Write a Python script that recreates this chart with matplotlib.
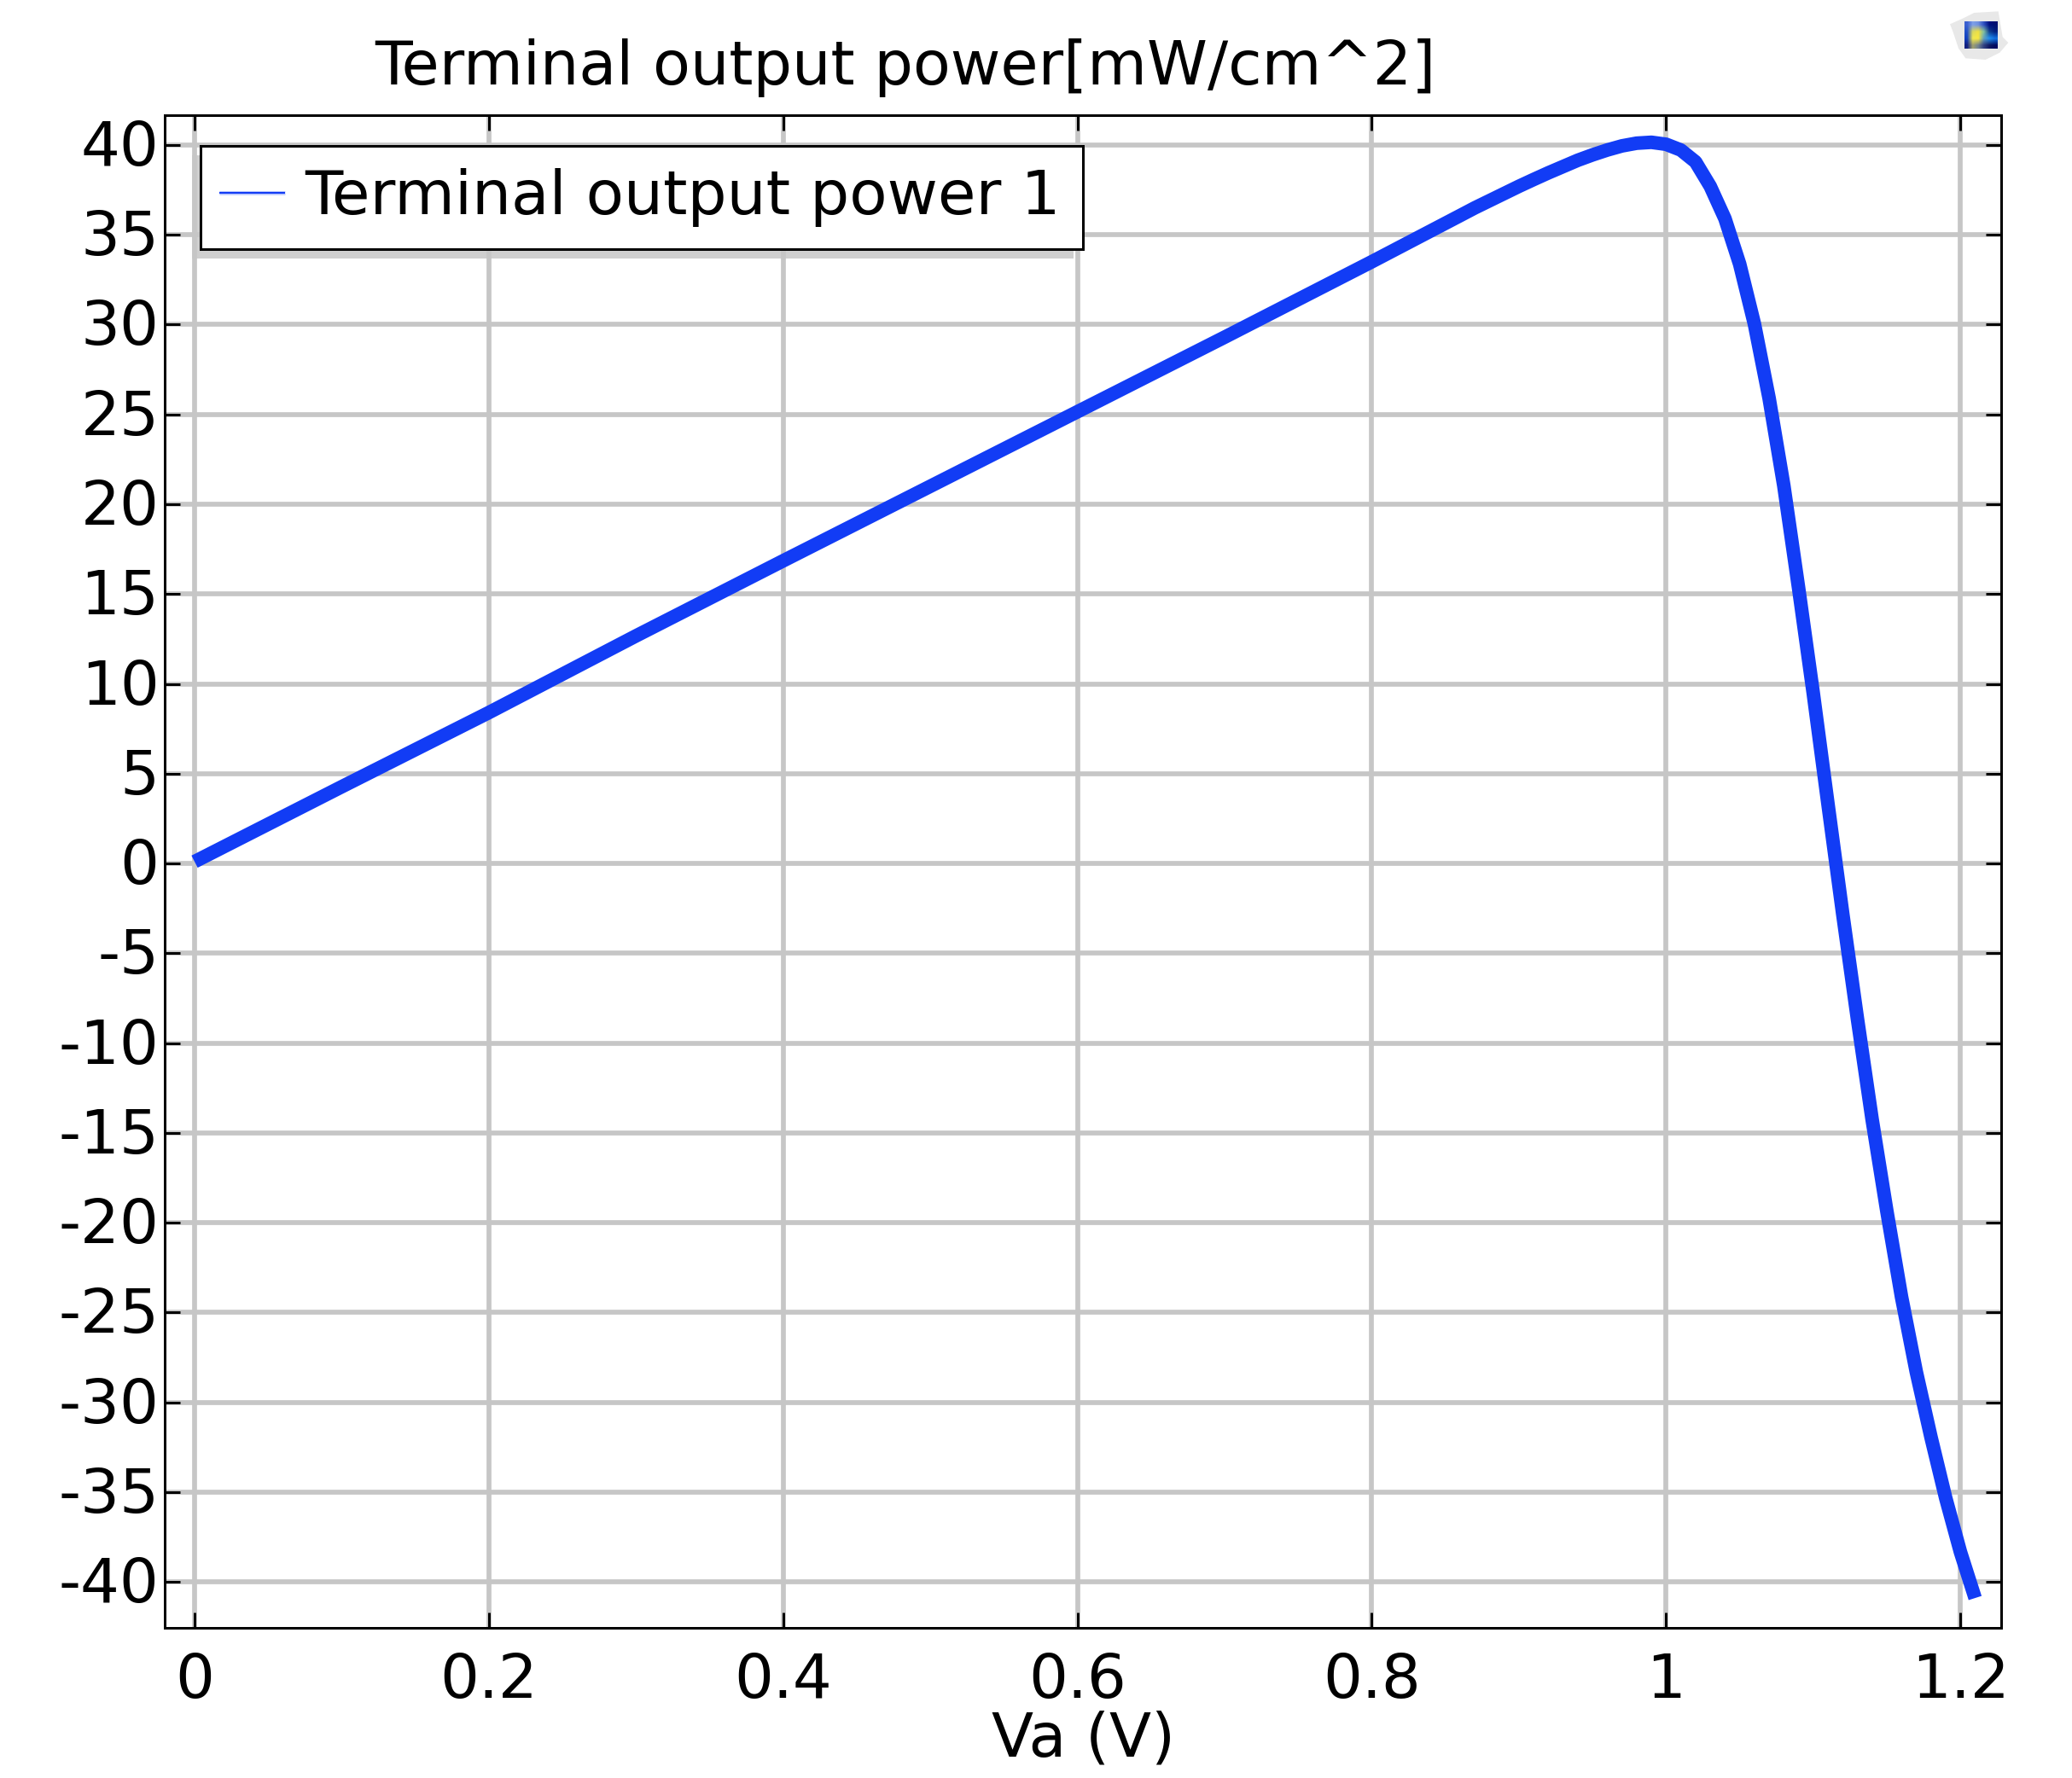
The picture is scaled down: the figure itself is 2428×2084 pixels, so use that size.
import matplotlib
matplotlib.use("Agg")
import matplotlib.pyplot as plt
import matplotlib.patheffects as pe
import numpy as np
from matplotlib.legend_handler import HandlerLine2D
from matplotlib.lines import Line2D
from matplotlib.patches import Rectangle, Polygon
from matplotlib.transforms import ScaledTranslation

W, H = 2428, 2084
DPI = 100

va_values = [0.0, 0.1, 0.2, 0.3, 0.4, 0.5, 0.6, 0.7, 0.8, 0.86, 0.87, 0.88, 0.89, 0.90,
             0.91, 0.92, 0.93, 0.94, 0.95, 0.96, 0.97, 0.98, 0.99, 1.00, 1.01, 1.02,
             1.03, 1.04, 1.05, 1.06, 1.07, 1.08, 1.09, 1.10, 1.11, 1.12, 1.13, 1.14,
             1.15, 1.16, 1.17, 1.18, 1.19, 1.20, 1.21]
power_values = [0.1, 4.27, 8.4, 12.67, 16.85, 21.0, 25.15, 29.3, 33.5, 36.07, 36.5, 36.9, 37.3, 37.7,
                38.08, 38.45, 38.8, 39.15, 39.45, 39.72, 39.95, 40.1, 40.15, 40.04, 39.72, 39.06,
                37.7, 35.9, 33.37, 30.04, 25.9, 21.03, 15.36, 9.48, 3.31, -2.79, -8.64, -14.25,
                -19.35, -24.14, -28.3, -31.94, -35.33, -38.33, -40.9]

x_ticks = [0, 0.2, 0.4, 0.6, 0.8, 1, 1.2]
x_labels = ["0", "0.2", "0.4", "0.6", "0.8", "1", "1.2"]
y_ticks = list(range(-40, 45, 5))
y_labels = [str(v) for v in y_ticks]

title_text = "Terminal output power[mW/cm^2]"
x_label = "Va (V)"
legend_label = "Terminal output power 1"

LINE = "#123cf5"
GRID = "#c6c6c6"
SHADOW = "#cfcfcf"
FS = 52.0

plt.rcParams["font.family"] = "DejaVu Sans"
fig = plt.figure(figsize=(W / DPI, H / DPI), dpi=DPI, facecolor="white")


def fx(p):
    return p / W


def fy(p):
    return 1 - p / H


L, R, T, B = 193, 2345, 135, 1908
ax = fig.add_axes([fx(L), fy(B), (R - L) / W, (B - T) / H])
ax.set_xlim(-0.0203, 1.2277)
ax.set_ylim(-42.56, 41.66)

ax.grid(True, color=GRID, linewidth=4.1, zorder=1)
ax.set_axisbelow(True)
ax.plot(va_values, power_values, color=LINE, linewidth=11.5,
        solid_capstyle="butt", solid_joinstyle="round", zorder=3)

ax.set_xticks(x_ticks, x_labels)
ax.set_yticks(y_ticks, y_labels)
ax.tick_params(axis="both", direction="in", top=True, right=True, length=13,
               width=2.16, labelsize=FS, color="black")
ax.tick_params(axis="x", pad=20.5)
ax.tick_params(axis="y", pad=4.7)
for s in ax.spines.values():
    s.set_linewidth(2.16)
up = ScaledTranslation(0, 3 / DPI, fig.dpi_scale_trans)
for lab in ax.get_yticklabels():
    lab.set_transform(lab.get_transform() + up)

# legend drop shadow
fig.add_artist(Rectangle((fx(225), fy(303)), (1258 - 225) / W, (303 - 182) / H,
                         transform=fig.transFigure, facecolor=SHADOW,
                         edgecolor="none", zorder=2.5))

handle = Line2D([], [], color=LINE, linewidth=1.6, solid_capstyle="butt",
                path_effects=[pe.Stroke(linewidth=3.6, foreground="#ccd6fd"), pe.Normal()])
leg = ax.legend([handle], [legend_label], loc="upper left",
                bbox_to_anchor=(fx(235), fy(171)), bbox_transform=fig.transFigure,
                fontsize=FS + 0.2, frameon=True, fancybox=False, framealpha=1,
                edgecolor="black", borderaxespad=0, borderpad=0.36,
                handlelength=1.0, handletextpad=0.33,
                handler_map={Line2D: HandlerLine2D(xpad=-0.05)})
leg.get_frame().set_linewidth(2.16)
leg.set_zorder(6)

ax.set_zorder(3)
ax.patch.set_alpha(0)

fig.text(fx(1061), fy(80), title_text, fontsize=FS - 0.3, ha="center", va="center")
fig.text(fx(1270), fy(2039), x_label, fontsize=FS - 0.3, ha="center", va="center")

# application icon in the top right corner
blob_x = [255, 300, 340, 425, 440, 460, 430, 380, 310, 285, 265]
blob_y = [85, 65, 45, 40, 130, 150, 185, 210, 205, 170, 110]
fig.add_artist(Polygon([(fx(2200 + a / 3), fy(b / 3)) for a, b in zip(blob_x, blob_y)],
                       closed=True, transform=fig.transFigure,
                       facecolor="#e8e8e8", edgecolor="none", zorder=1))
icon_rows = [["#3a5fd0", "#7fa0e8", "#6f90e0", "#2f50c0", "#000f80", "#001070"],
             ["#2050c8", "#d8d860", "#f0e040", "#80c0a0", "#104090", "#002080"],
             ["#1040c0", "#f0e850", "#f8e840", "#60a0c0", "#2090f0", "#1070e0"],
             ["#102080", "#a0a070", "#708090", "#304080", "#101860", "#000a60"]]
icon_rgb = np.array([[matplotlib.colors.to_rgb(c) for c in r] for r in icon_rows])
iax = fig.add_axes([fx(2302), fy(57), 39 / W, 32 / H], zorder=5)
iax.imshow(icon_rgb, interpolation="bilinear", aspect="auto")
iax.axis("off")

fig.savefig("out.png", dpi=DPI)
